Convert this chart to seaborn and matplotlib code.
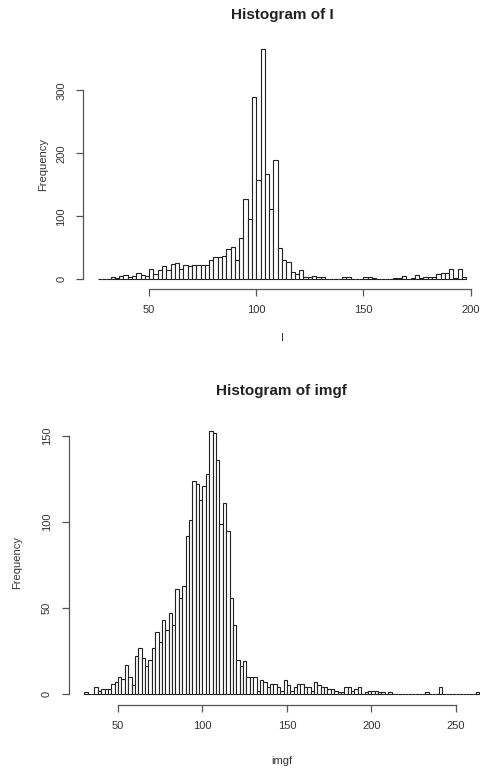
import numpy as np
import pandas as pd
import matplotlib
matplotlib.use('Agg')
import matplotlib.pyplot as plt
import seaborn as sns

# histogram of I: breaks 26..198, width 2
i_breaks = np.arange(26, 199, 2)
i_counts = [
    1, 1, 1, 4, 2, 5, 7, 3, 6, 10,          # 26-44
    7, 6, 16, 9, 14, 21, 14, 24, 26, 17,    # 46-64
    23, 21, 22, 22, 22, 22, 30, 36, 35, 37, # 66-84
    48, 52, 31, 66, 128, 95, 290, 157, 365, 167,  # 86-104
    111, 189, 49, 31, 28, 12, 9, 14, 4, 4,  # 106-124
    5, 3, 3, 1, 0, 1, 0, 3, 3, 1,           # 126-144
    1, 1, 3, 4, 2, 0, 0, 0, 0, 2,           # 146-164
    2, 6, 0, 2, 7, 2, 3, 4, 4, 9,           # 166-184
    10, 10, 16, 2, 17, 3,                   # 186-196
]
i_xticks = [50, 100, 150, 200]
i_yticks = [0, 100, 200, 300]

# histogram of imgf: breaks 30..264, width 2
imgf_breaks = np.arange(30, 265, 2)
imgf_counts = [
    1, 0, 0, 4, 2, 3, 3, 3, 6, 7,             # 30-48
    10, 9, 17, 10, 5, 22, 27, 21, 16, 20,     # 50-68
    27, 36, 30, 43, 37, 47, 40, 61, 56, 63,   # 70-88
    92, 101, 124, 122, 113, 121, 128, 153, 152, 136,  # 90-108
    99, 111, 95, 56, 40, 20, 16, 19, 10, 10,  # 110-128
    10, 2, 8, 7, 4, 6, 6, 4, 2, 8,            # 130-148
    5, 2, 4, 6, 6, 4, 4, 2, 7, 5,             # 150-168
    4, 4, 3, 3, 2, 1, 1, 4, 4, 2,             # 170-188
    3, 4, 0, 1, 2, 2, 2, 1, 1, 0,             # 190-208
    1, 0, 0, 0, 0, 0, 0, 0, 0, 0,             # 210-228
    0, 1, 0, 0, 0, 4, 0, 0, 0, 0,             # 230-248
    0, 0, 0, 0, 0, 0, 1,                      # 250-262
]
imgf_xticks = [50, 100, 150, 200, 250]
imgf_yticks = [0, 50, 100, 150]

W, H = 480, 769
TXT = '#333333'
AXC = '#555555'

sns.set_style('white')
plt.rcParams['font.family'] = ['Liberation Sans', 'DejaVu Sans']


def r_hist(ax, breaks, counts, xticks, yticks, name, fs, title_pad, xlab_pad, ylab_pad):
    df = pd.DataFrame({'mid': breaks[:-1] + 1.0, 'n': counts})
    sns.histplot(data=df, x='mid', weights='n', bins=[float(b) for b in breaks],
                 color='white', edgecolor='#222222', linewidth=0.8, alpha=1, ax=ax)
    # R pads the data range by 4% on each side
    xr = breaks[-1] - breaks[0]
    ax.set_xlim(breaks[0] - 0.04 * xr, breaks[-1] + 0.04 * xr)
    ymax = max(counts)
    ax.set_ylim(-0.04 * ymax, 1.04 * ymax)
    for s in ['top', 'right']:
        ax.spines[s].set_visible(False)
    for s in ['left', 'bottom']:
        ax.spines[s].set_color(AXC)
        ax.spines[s].set_linewidth(0.9)
    ax.spines['bottom'].set_bounds(xticks[0], xticks[-1])
    ax.spines['left'].set_bounds(yticks[0], yticks[-1])
    ax.set_xticks(xticks)
    ax.set_yticks(yticks)
    ax.tick_params(axis='both', direction='out', length=5, width=0.9, color=AXC,
                   labelsize=fs, labelcolor=TXT, pad=7, left=True, bottom=True)
    for lab in ax.get_yticklabels():
        lab.set_rotation(90)
        lab.set_va('center')
    ax.set_title(f'Histogram of {name}', fontsize=11, fontweight='bold',
                 color='#222222', pad=title_pad)
    ax.set_xlabel(name, fontsize=fs, color=TXT, labelpad=xlab_pad)
    ax.set_ylabel('Frequency', fontsize=fs, color=TXT, labelpad=ylab_pad)


fig = plt.figure(figsize=(W / 100, H / 100), dpi=100)

# axes boxes in pixels (left, top, right, bottom); right side runs off the image like the source
top_box = (83.0, 40.2, 481.0, 288.5)
bot_box = (68.5, 420.4, 495.2, 704.5)

def add_axes(box):
    l, t, r, b = box
    return fig.add_axes([l / W, 1 - b / H, (r - l) / W, (b - t) / H])

ax1 = add_axes(top_box)
r_hist(ax1, i_breaks, i_counts, i_xticks, i_yticks, 'I', 8, 15, 13, 6)

ax2 = add_axes(bot_box)
r_hist(ax2, imgf_breaks, imgf_counts, imgf_xticks, imgf_yticks, 'imgf', 8, 18, 18, 14)

fig.savefig('out.png', dpi=100)
